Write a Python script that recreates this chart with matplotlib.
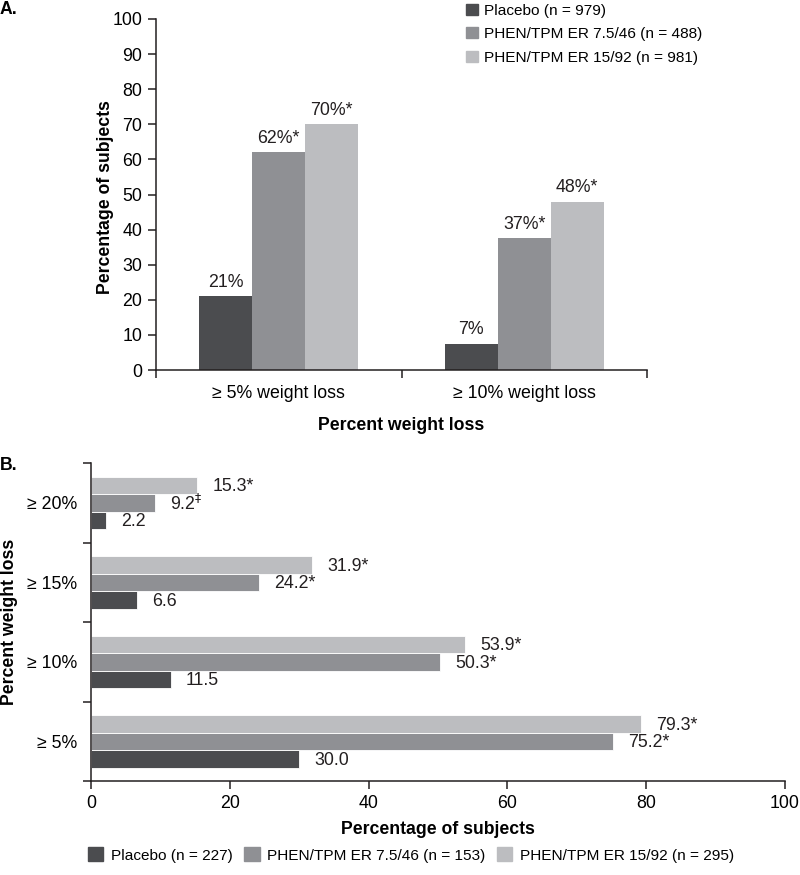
import numpy as np
import matplotlib
matplotlib.use('Agg')
import matplotlib.pyplot as plt
from matplotlib.patches import Patch

plt.rcParams['font.family'] = ['Liberation Sans', 'DejaVu Sans']
plt.rcParams['mathtext.fontset'] = 'dejavusans'

###### Data ######

# panel A: categorical weight loss
a_categories = ['\u2265 5% weight loss', '\u2265 10% weight loss']
a_placebo = [21, 7.5]
a_low = [62, 37.5]
a_high = [70, 48]
a_placebo_lbl = ['21%', '7%']
a_low_lbl = ['62%*', '37%*']
a_high_lbl = ['70%*', '48%*']
a_legend = ['Placebo (n = 979)', 'PHEN/TPM ER 7.5/46 (n = 488)', 'PHEN/TPM ER 15/92 (n = 981)']

# panel B: completers, bottom to top
b_categories = ['\u2265 5%', '\u2265 10%', '\u2265 15%', '\u2265 20%']
b_placebo = [30.0, 11.5, 6.6, 2.2]
b_low = [75.2, 50.3, 24.2, 9.2]
b_high = [79.3, 53.9, 31.9, 15.3]
b_placebo_lbl = ['30.0', '11.5', '6.6', '2.2']
b_low_lbl = ['75.2*', '50.3*', '24.2*', '9.2$^{\\ddag}$']
b_high_lbl = ['79.3*', '53.9*', '31.9*', '15.3*']
b_legend = ['Placebo (n = 227)', 'PHEN/TPM ER 7.5/46 (n = 153)', 'PHEN/TPM ER 15/92 (n = 295)']

colors = ['#4b4c4f', '#8f9094', '#bcbdc0']
spine_col = '#231f20'
tick_fs = 12.8
val_fs = 12.8
lab_fs = 12.7
leg_fs = 11.1

fig = plt.figure(figsize=(8, 8.75), dpi=100)

####### Panel A #######

axA = fig.add_axes([0.195, 0.5771, 0.61375, 0.4012])
x = np.arange(len(a_categories))
w = 0.216
series_a = [(a_placebo, a_placebo_lbl), (a_low, a_low_lbl), (a_high, a_high_lbl)]
for i, (vals, lbls) in enumerate(series_a):
    pos = x + (i - 1) * w
    axA.bar(pos, vals, width=w, color=colors[i], edgecolor='none')
    for p, v, t in zip(pos, vals, lbls):
        axA.annotate(t, (p, v), xytext=(0, 4), textcoords='offset points',
                     ha='center', va='bottom', fontsize=val_fs, color=spine_col)

axA.set_xlim(-0.5, 1.5)
axA.set_ylim(0, 100)
axA.set_yticks(np.arange(0, 101, 10))
axA.set_xticks(x)
axA.set_xticklabels(a_categories)
axA.set_xticks([-0.5, 0.5, 1.5], minor=True)
axA.tick_params(axis='x', which='major', length=0, pad=11, labelsize=tick_fs)
axA.tick_params(axis='x', which='minor', length=6, width=1.1, color=spine_col)
axA.tick_params(axis='y', length=6, width=1.1, color=spine_col, labelsize=tick_fs, pad=4)
for s in ['top', 'right']:
    axA.spines[s].set_visible(False)
for s in ['left', 'bottom']:
    axA.spines[s].set_color(spine_col)
    axA.spines[s].set_linewidth(1.1)

handlesA = [Patch(color=c) for c in colors]
fig.legend(handlesA, a_legend, loc='upper left', bbox_to_anchor=(0.583, 0.996),
           frameon=False, fontsize=leg_fs, handlelength=0.72, handleheight=0.72,
           handletextpad=0.45, labelspacing=0.62, borderpad=0, borderaxespad=0)

fig.text(0.0, 0.9895, 'A.', fontsize=lab_fs, fontweight='bold', va='center')
fig.text(105 / 800, 1 - 197 / 875, 'Percentage of subjects', rotation=90,
         fontsize=lab_fs, fontweight='bold', ha='center', va='center')
fig.text(401 / 800, 1 - 425 / 875, 'Percent weight loss', fontsize=lab_fs,
         fontweight='bold', ha='center', va='center')

####### Panel B #######

axB = fig.add_axes([0.11375, 0.1074, 0.8675, 0.3634])
y = np.arange(len(b_categories))
h = 0.22
series_b = [(b_placebo, b_placebo_lbl), (b_low, b_low_lbl), (b_high, b_high_lbl)]
for i, (vals, lbls) in enumerate(series_b):
    pos = y + (i - 1) * h
    axB.barh(pos, vals, height=h, color=colors[i], edgecolor='white', linewidth=0.6)
    for p, v, t in zip(pos, vals, lbls):
        axB.annotate(t, (v, p), xytext=(11, -1), textcoords='offset points',
                     ha='left', va='center', fontsize=val_fs, color=spine_col)

axB.set_xlim(0, 100)
axB.set_ylim(-0.5, 3.5)
axB.set_xticks(np.arange(0, 101, 20))
axB.set_yticks(y)
axB.set_yticklabels(b_categories)
axB.set_yticks(np.arange(-0.5, 3.6, 1), minor=True)
axB.tick_params(axis='y', which='major', length=0, pad=10, labelsize=tick_fs)
axB.tick_params(axis='y', which='minor', length=6, width=1.1, color=spine_col)
axB.tick_params(axis='x', length=6, width=1.1, color=spine_col, labelsize=tick_fs, pad=4)
for s in ['top', 'right']:
    axB.spines[s].set_visible(False)
for s in ['left', 'bottom']:
    axB.spines[s].set_color(spine_col)
    axB.spines[s].set_linewidth(1.1)

fig.text(0.0, 1 - 466 / 875, 'B.', fontsize=lab_fs, fontweight='bold', va='center')
fig.text(10 / 800, 1 - 622 / 875, 'Percent weight loss', rotation=90,
         fontsize=lab_fs, fontweight='bold', ha='center', va='center')
fig.text(438 / 800, 1 - 829 / 875, 'Percentage of subjects', fontsize=lab_fs,
         fontweight='bold', ha='center', va='center')

handlesB = [Patch(color=c) for c in colors]
fig.legend(handlesB, b_legend, loc='center', bbox_to_anchor=(411 / 800, 1 - 855 / 875),
           ncol=3, frameon=False, fontsize=leg_fs, handlelength=1.0, handleheight=1.0,
           handletextpad=0.5, columnspacing=0.75, borderpad=0, borderaxespad=0)

fig.savefig('out.png', dpi=100)
print('done')
